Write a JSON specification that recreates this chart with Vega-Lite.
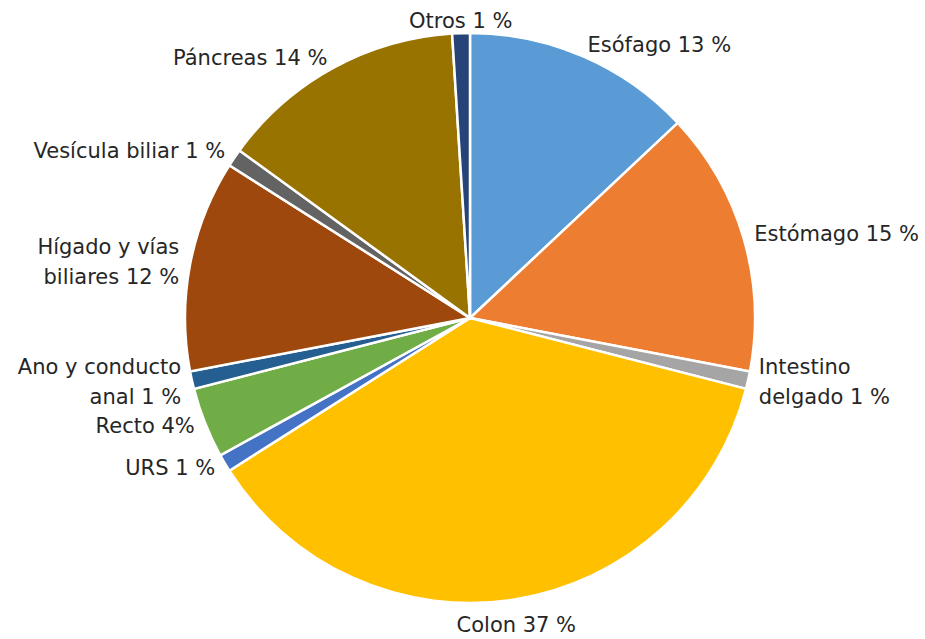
{
  "$schema": "https://vega.github.io/schema/vega-lite/v6.json",
  "autosize": {"type": "fit", "contains": "padding"},
  "width": 925,
  "height": 639,
  "padding": {"left": 15, "right": 0, "top": 0, "bottom": 3},
  "background": "white",
  "view": {"stroke": null},
  "data": {
    "values": [
      {"order": 1, "label": "Esófago 13 %", "value": 13, "color": "#5B9BD5"},
      {"order": 2, "label": "Estómago 15 %", "value": 15, "color": "#ED7D31"},
      {"order": 3, "label": "Intestino\ndelgado 1 %", "value": 1, "color": "#A5A5A5"},
      {"order": 4, "label": "Colon 37 %", "value": 37, "color": "#FFC000"},
      {"order": 5, "label": "URS 1 %", "value": 1, "color": "#4472C4"},
      {"order": 6, "label": "Recto 4%", "value": 4, "color": "#70AD47"},
      {"order": 7, "label": "Ano y conducto\nanal 1 %", "value": 1, "color": "#255E91"},
      {"order": 8, "label": "Hígado y vías\nbiliares 12 %", "value": 12, "color": "#9E480E"},
      {"order": 9, "label": "Vesícula biliar 1 %", "value": 1, "color": "#636363"},
      {"order": 10, "label": "Páncreas 14 %", "value": 14, "color": "#997300"},
      {"order": 11, "label": "Otros 1 %", "value": 1, "color": "#264478"}
    ]
  },
  "encoding": {
    "theta": {"field": "value", "type": "quantitative", "stack": true},
    "order": {"field": "order", "type": "quantitative", "sort": "ascending"}
  },
  "layer": [
    {
      "mark": {"type": "arc", "radius": 285, "stroke": "white", "strokeWidth": 2.5},
      "encoding": {
        "color": {"field": "color", "type": "nominal", "scale": null, "legend": null}
      }
    },
    {
      "transform": [
        {"window": [{"op": "sum", "field": "value", "as": "cum"}], "sort": [{"field": "order", "order": "ascending"}], "frame": [null, 0]},
        {"calculate": "(datum.cum - datum.value / 2) / 100 * 2 * PI", "as": "mid"}
      ],
      "mark": {
        "type": "text",
        "radius": 296,
        "font": "DejaVu Sans",
        "fontSize": 21,
        "color": "#262626",
        "lineBreak": "\n",
        "lineHeight": 30,
        "baseline": "middle",
        "dy": {"expr": "indexof(datum.label, '\\n') >= 0 ? -15 : (cos(datum.mid) < -0.9 ? 16 : 0)"},
        "align": {"expr": "sin(datum.mid) > 0.25 ? 'left' : (sin(datum.mid) < -0.25 ? 'right' : 'center')"}
      },
      "encoding": {
        "text": {"field": "label", "type": "nominal"}
      }
    }
  ]
}
